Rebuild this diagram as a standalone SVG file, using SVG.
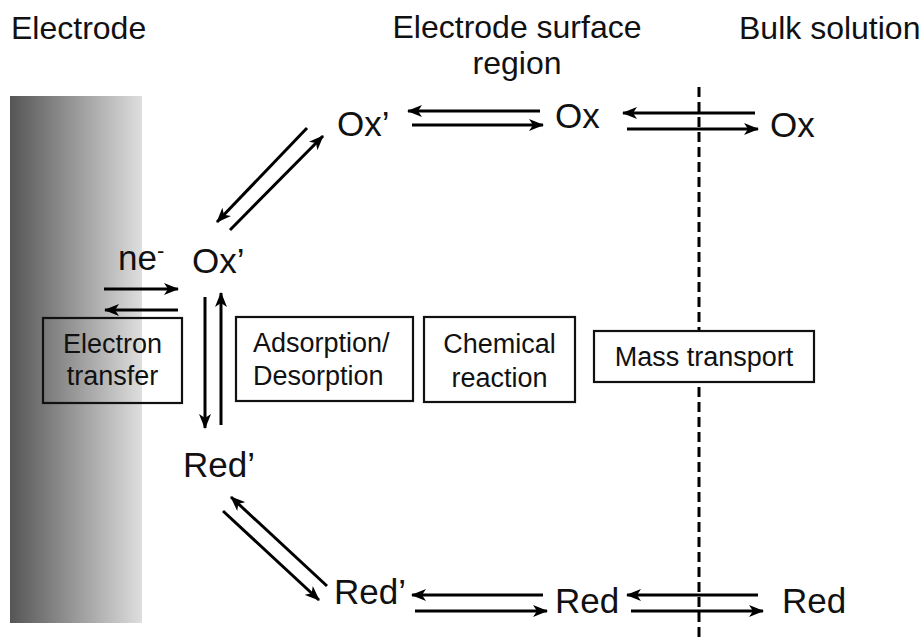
<svg xmlns="http://www.w3.org/2000/svg" width="924" height="640" viewBox="0 0 924 640">
<style>
.hdr{font-family:"Liberation Sans",Arial,sans-serif;font-size:32px;fill:#111}
.sp{font-family:"Liberation Sans",Arial,sans-serif;font-size:35px;fill:#111}
.bt{font-family:"Liberation Sans",Arial,sans-serif;font-size:27px;fill:#111}
.box{fill:none;stroke:#111;stroke-width:2.2}
.boxw{fill:#fff;stroke:#111;stroke-width:2.2}
.arr{stroke:#000;stroke-width:3;fill:none;marker-end:url(#ah)}
.dash{stroke:#000;stroke-width:3;stroke-dasharray:10 5;fill:none}
</style>
<defs>
<linearGradient id="eg" x1="0" y1="0" x2="1" y2="0">
<stop offset="0" stop-color="#555"/>
<stop offset="1" stop-color="#dedede"/>
</linearGradient>
<marker id="ah" markerUnits="userSpaceOnUse" viewBox="0 0 15 12" refX="14" refY="6" markerWidth="15" markerHeight="12" orient="auto">
<path d="M0,0 L15,6 L0,12 L4,6 z" fill="#000"/>
</marker>
</defs>
<g id="electrode">
<rect x="10" y="96" width="132" height="527" fill="url(#eg)"/>
</g>
<g id="headers">
<text class="hdr" x="11" y="39">Electrode</text>
<text class="hdr" x="517" y="38" text-anchor="middle">Electrode surface</text>
<text class="hdr" x="517" y="74" text-anchor="middle">region</text>
<text class="hdr" x="739" y="39">Bulk solution</text>
</g>
<g id="boundary">
<line class="dash" x1="699" y1="87" x2="699" y2="640"/>
</g>
<g id="connectors">
<line class="arr" x1="540" y1="111" x2="408" y2="111"/>
<line class="arr" x1="412" y1="125" x2="543" y2="125"/>
<line class="arr" x1="755" y1="113" x2="623" y2="113"/>
<line class="arr" x1="627" y1="129" x2="758" y2="129"/>
<line class="arr" x1="307" y1="128" x2="217" y2="222"/>
<line class="arr" x1="230" y1="230" x2="323" y2="136"/>
<line class="arr" x1="104" y1="289" x2="178" y2="289"/>
<line class="arr" x1="178" y1="310" x2="105" y2="310"/>
<line class="arr" x1="205" y1="297" x2="205" y2="428"/>
<line class="arr" x1="221" y1="425" x2="221" y2="293"/>
<line class="arr" x1="327" y1="586" x2="231" y2="497"/>
<line class="arr" x1="223" y1="511" x2="319" y2="600"/>
<line class="arr" x1="543" y1="595" x2="412" y2="595"/>
<line class="arr" x1="415" y1="611" x2="547" y2="611"/>
<line class="arr" x1="758" y1="595" x2="627" y2="595"/>
<line class="arr" x1="631" y1="611" x2="763" y2="611"/>
</g>
<g id="ox-top-prime"><text class="sp" x="337" y="136">Ox’</text></g>
<g id="ox-surface"><text class="sp" x="555" y="128">Ox</text></g>
<g id="ox-bulk"><text class="sp" x="770" y="137">Ox</text></g>
<g id="ne"><text class="sp" x="118" y="270">ne<tspan font-size="22" dy="-12">-</tspan></text></g>
<g id="ox-adsorbed"><text class="sp" x="192" y="273">Ox’</text></g>
<g id="red-adsorbed"><text class="sp" x="183" y="477">Red’</text></g>
<g id="red-bottom-prime"><text class="sp" x="334" y="604">Red’</text></g>
<g id="red-surface"><text class="sp" x="555" y="613">Red</text></g>
<g id="red-bulk"><text class="sp" x="782" y="613">Red</text></g>
<g id="box-electron-transfer">
<rect class="box" x="43" y="318" width="139" height="85"/>
<text class="bt" x="112.5" y="353" text-anchor="middle">Electron</text>
<text class="bt" x="112.5" y="385" text-anchor="middle">transfer</text>
</g>
<g id="box-adsorption">
<rect class="box" x="236" y="317" width="177" height="84"/>
<text class="bt" x="253" y="352">Adsorption/</text>
<text class="bt" x="253" y="385">Desorption</text>
</g>
<g id="box-chemical">
<rect class="box" x="424" y="317" width="151" height="85"/>
<text class="bt" x="499.5" y="353" text-anchor="middle">Chemical</text>
<text class="bt" x="499.5" y="387" text-anchor="middle">reaction</text>
</g>
<g id="box-mass-transport">
<rect class="boxw" x="594" y="331" width="220" height="51"/>
<text class="bt" x="704" y="366" text-anchor="middle">Mass transport</text>
</g>
</svg>
